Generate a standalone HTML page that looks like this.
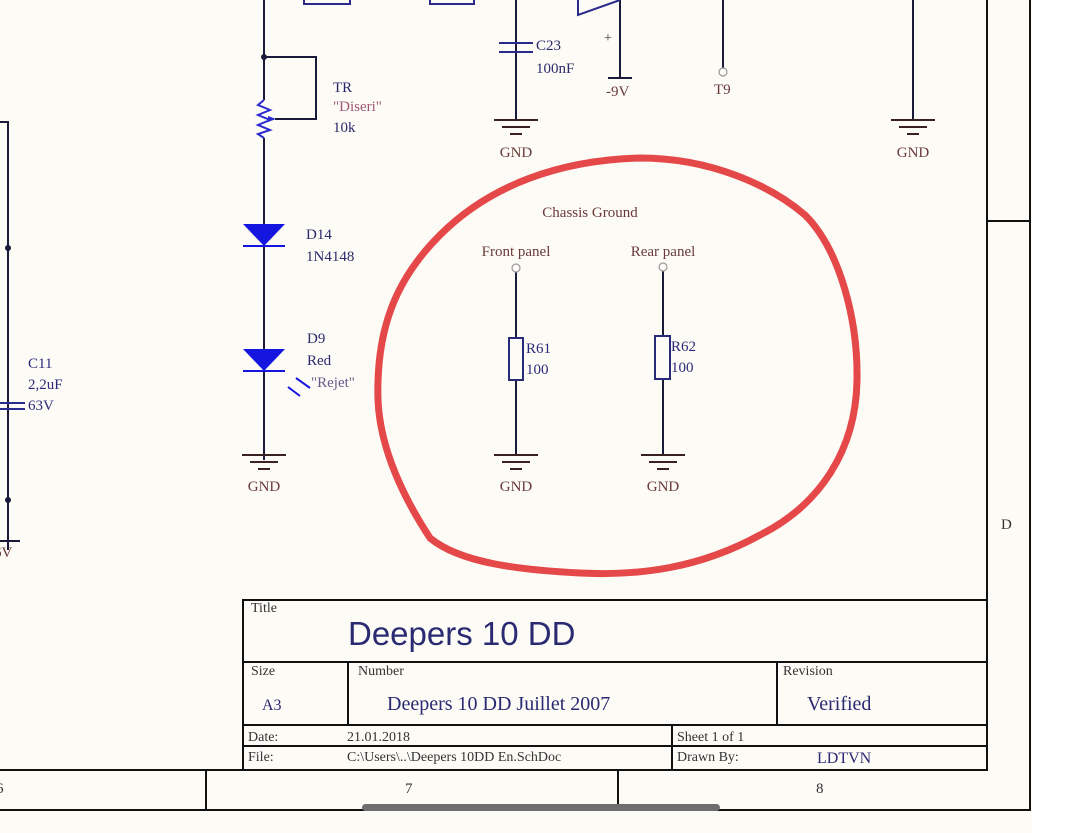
<!DOCTYPE html>
<html><head><meta charset="utf-8"><style>
html,body{margin:0;padding:0;background:#fff;}
svg{display:block;}
text{font-family:"Liberation Serif",serif;}
</style></head><body>
<svg width="1080" height="833" viewBox="0 0 1080 833" xmlns="http://www.w3.org/2000/svg">
<rect x="0" y="0" width="1032" height="833" fill="#fdfbf6"/>
<rect x="1032" y="0" width="48" height="833" fill="#ffffff"/>
<g stroke="#111" stroke-width="2" fill="none">
 <line x1="987" y1="0" x2="987" y2="770"/>
 <line x1="1030" y1="0" x2="1030" y2="810"/>
 <line x1="987" y1="221" x2="1030" y2="221"/>
 <line x1="0" y1="770" x2="987" y2="770"/>
 <line x1="0" y1="810" x2="1031" y2="810"/>
 <line x1="206" y1="770" x2="206" y2="810"/>
 <line x1="618" y1="770" x2="618" y2="810"/>
</g>
<g font-size="15" fill="#333">
 <text x="-4" y="793">6</text>
 <text x="405" y="793">7</text>
 <text x="816" y="793">8</text>
 <text x="1001" y="529">D</text>
</g>
<g stroke="#1a1a3a" stroke-width="2" fill="none">
 <polyline points="0,122 8,122 8,550"/>
 <line x1="0" y1="541" x2="20" y2="541"/>
 <line x1="264" y1="0" x2="264" y2="100"/>
 <line x1="264" y1="138" x2="264" y2="460"/>
 <polyline points="264,57 316,57 316,119 275,119"/>
 <line x1="516" y1="0" x2="516" y2="120"/>
 <line x1="620" y1="0" x2="620" y2="78"/>
 <line x1="723" y1="0" x2="723" y2="68"/>
 <line x1="913" y1="0" x2="913" y2="120"/>
 <line x1="516" y1="272" x2="516" y2="455"/>
 <line x1="663" y1="271" x2="663" y2="455"/>
</g>
<g fill="#1a1a3a"><circle cx="8" cy="248" r="3"/><circle cx="8" cy="500" r="3"/><circle cx="264" cy="57" r="3"/></g>
<g stroke="#2a2a90" stroke-width="2"><line x1="0" y1="403" x2="25" y2="403"/><line x1="0" y1="409" x2="25" y2="409"/></g>
<g font-size="15" fill="#2a2a7a"><text x="28" y="368">C11</text><text x="28" y="389">2,2uF</text><text x="28" y="410">63V</text></g>
<text x="-6" y="557" font-size="15" fill="#6a3a3a">6V</text>
<polyline points="264,100 258,105 270,110 258,115 270,120 258,125 270,130 258,134 264,138" stroke="#2a2ad0" stroke-width="2" fill="none"/>
<polygon points="268,116 276,119 268,122" fill="#2a2ad0"/>
<g font-size="15"><text x="333" y="92" fill="#2a2a6a">TR</text><text x="333" y="111" fill="#a05878">"Diseri"</text><text x="333" y="132" fill="#2a2a6a">10k</text></g>
<polygon points="243,224 285,224 264,246" fill="#1515e0"/><line x1="243" y1="246" x2="285" y2="246" stroke="#1515e0" stroke-width="2"/>
<g font-size="15" fill="#2a2a6a"><text x="306" y="239">D14</text><text x="306" y="261">1N4148</text></g>
<polygon points="243,349 285,349 264,371" fill="#1515e0"/><line x1="243" y1="371" x2="285" y2="371" stroke="#1515e0" stroke-width="2"/>
<g stroke="#1515e0" stroke-width="2"><line x1="288" y1="387" x2="300" y2="396"/><line x1="296" y1="378" x2="310" y2="388"/></g>
<g font-size="15"><text x="307" y="343" fill="#2a2a6a">D9</text><text x="307" y="365" fill="#2a2a6a">Red</text><text x="311" y="387" fill="#6a5a8a">"Rejet"</text></g>
<g stroke="#2a2a8a" stroke-width="2" fill="none">
 <rect x="304" y="-5" width="46" height="9"/><rect x="430" y="-5" width="44" height="9"/>
 <line x1="499" y1="43" x2="533" y2="43"/><line x1="499" y1="52" x2="533" y2="52"/>
 <polyline points="578,0 578,15 620,0"/>
</g>
<g font-size="15" fill="#2a2a6a"><text x="536" y="50">C23</text><text x="536" y="73">100nF</text></g>
<line x1="608" y1="78" x2="632" y2="78" stroke="#1a1a3a" stroke-width="2"/>
<text x="606" y="96" font-size="15" fill="#6a3a3a">-9V</text>
<text x="604" y="42" font-size="14" fill="#333">+</text>
<circle cx="723" cy="72" r="4" fill="none" stroke="#999" stroke-width="1.2"/>
<text x="714" y="94" font-size="15" fill="#6a3a3a">T9</text>
<g stroke="#3a2020" stroke-width="2">
 <line x1="242" y1="455" x2="286" y2="455"/><line x1="250" y1="462" x2="278" y2="462"/><line x1="258" y1="469" x2="270" y2="469"/>
 <line x1="494" y1="120" x2="538" y2="120"/><line x1="502" y1="127" x2="530" y2="127"/><line x1="510" y1="134" x2="522" y2="134"/>
 <line x1="891" y1="120" x2="935" y2="120"/><line x1="899" y1="127" x2="927" y2="127"/><line x1="907" y1="134" x2="919" y2="134"/>
 <line x1="494" y1="455" x2="538" y2="455"/><line x1="502" y1="462" x2="530" y2="462"/><line x1="510" y1="469" x2="522" y2="469"/>
 <line x1="641" y1="455" x2="685" y2="455"/><line x1="649" y1="462" x2="677" y2="462"/><line x1="657" y1="469" x2="669" y2="469"/>
</g>
<g font-size="15" fill="#6a3a3a" text-anchor="middle">
 <text x="264" y="491">GND</text><text x="516" y="157">GND</text><text x="913" y="157">GND</text>
 <text x="516" y="491">GND</text><text x="663" y="491">GND</text>
 <text x="590" y="217">Chassis Ground</text><text x="516" y="256">Front panel</text><text x="663" y="256">Rear panel</text>
</g>
<circle cx="516" cy="268" r="4" fill="none" stroke="#999" stroke-width="1.2"/>
<circle cx="663" cy="267" r="4" fill="none" stroke="#999" stroke-width="1.2"/>
<g stroke="#2a2a7a" stroke-width="2" fill="#fdfbf6"><rect x="509" y="338" width="14" height="42"/><rect x="655" y="336" width="15" height="43"/></g>
<g font-size="15" fill="#2a2a7a"><text x="526" y="353">R61</text><text x="526" y="374">100</text><text x="671" y="351">R62</text><text x="671" y="372">100</text></g>
<path d="M430,538 C405,500 380,450 378,400 C376,330 395,280 440,235 C490,185 560,160 640,158 C710,158 770,185 805,215 C840,250 858,320 857,380 C856,450 820,505 760,535 C700,568 640,576 580,573 C520,570 460,563 430,538" fill="none" stroke="#e54848" stroke-width="7" stroke-linecap="round"/>
<g stroke="#111" stroke-width="2" fill="none">
 <rect x="243" y="600" width="744" height="170"/>
 <line x1="243" y1="662" x2="987" y2="662"/>
 <line x1="243" y1="725" x2="987" y2="725"/>
 <line x1="243" y1="746" x2="987" y2="746"/>
 <line x1="348" y1="662" x2="348" y2="725"/>
 <line x1="777" y1="662" x2="777" y2="725"/>
 <line x1="672" y1="725" x2="672" y2="770"/>
</g>
<g font-size="14" fill="#333">
 <text x="251" y="612">Title</text><text x="251" y="675">Size</text><text x="358" y="675">Number</text><text x="783" y="675">Revision</text>
 <text x="248" y="741">Date:</text><text x="347" y="741">21.01.2018</text><text x="677" y="741">Sheet 1 of 1</text>
 <text x="248" y="761">File:</text><text x="347" y="761">C:\Users\..\Deepers 10DD En.SchDoc</text><text x="677" y="761">Drawn By:</text>
</g>
<text x="348" y="645" font-size="33" fill="#2a2a72" style="font-family:'Liberation Sans',sans-serif">Deepers 10 DD</text>
<g font-size="20" fill="#2a2a72"><text x="262" y="710" font-size="16">A3</text><text x="387" y="710">Deepers 10 DD Juillet 2007</text><text x="807" y="710">Verified</text><text x="817" y="763" font-size="16">LDTVN</text></g>
<rect x="362" y="804" width="358" height="7" rx="3.5" fill="#6e6e6e"/>
</svg>
</body></html>
